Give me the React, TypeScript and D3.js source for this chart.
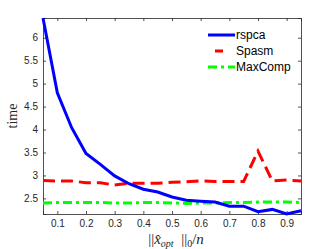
import React, { useEffect, useRef } from 'react';
import * as d3 from 'd3';

// sparsity levels on the x axis
const sparsity = [0.05, 0.1, 0.15, 0.2, 0.25, 0.3, 0.35, 0.4, 0.45, 0.5, 0.55, 0.6, 0.65, 0.7, 0.75, 0.8, 0.85, 0.9, 0.95];

// run times per method
const rspca = [6.43, 4.8, 4.04, 3.48, 3.24, 2.99, 2.82, 2.7, 2.64, 2.53, 2.46, 2.44, 2.42, 2.33, 2.33, 2.21, 2.26, 2.16, 2.23];
const spasm = [2.89, 2.88, 2.88, 2.84, 2.84, 2.79, 2.83, 2.83, 2.83, 2.85, 2.86, 2.88, 2.87, 2.87, 2.87, 3.53, 2.88, 2.9, 2.88];
const maxComp = [2.4, 2.41, 2.41, 2.41, 2.41, 2.4, 2.4, 2.41, 2.41, 2.4, 2.39, 2.4, 2.4, 2.41, 2.41, 2.42, 2.42, 2.42, 2.41];

const xTicks = [0.1, 0.2, 0.3, 0.4, 0.5, 0.6, 0.7, 0.8, 0.9];
const yTicks = [2.5, 3, 3.5, 4, 4.5, 5, 5.5, 6];

const seriesNames = ['rspca', 'Spasm', 'MaxComp'];

const App = () => {
  const ref = useRef<SVGSVGElement>(null);
  const width = 332;
  const height = 249;

  useEffect(() => {
    const svg = d3.select(ref.current);
    svg.selectAll('*').remove();

    const margin = { top: 18, right: 31, bottom: 35, left: 43 };
    const innerW = width - margin.left - margin.right;
    const innerH = height - margin.top - margin.bottom;

    const all = rspca.concat(spasm, maxComp);
    const x = d3.scaleLinear().domain([0.05, 0.95]).range([0, innerW]);
    const y = d3.scaleLinear().domain([d3.min(all)!, d3.max(all)!]).range([innerH, 0]);

    const g = svg.append('g').attr('transform', `translate(${margin.left},${margin.top})`);

    const tickFont = 'Liberation Sans, Arial, sans-serif';
    const serif = 'Liberation Serif, serif';
    const axisColor = '#262626';

    // axes box with inward ticks (MATLAB look)
    const bottom = g.append('g').attr('transform', `translate(0,${innerH})`)
      .call(d3.axisBottom(x).tickValues(xTicks).tickSize(-3).tickPadding(6).tickFormat(d3.format('.1f')));
    const top = g.append('g')
      .call(d3.axisTop(x).tickValues(xTicks).tickSize(-3).tickFormat(() => ''));
    const left = g.append('g')
      .call(d3.axisLeft(y).tickValues(yTicks).tickSize(-3).tickPadding(5).tickFormat(d3.format('')));
    const right = g.append('g').attr('transform', `translate(${innerW},0)`)
      .call(d3.axisRight(y).tickValues(yTicks).tickSize(-3).tickFormat(() => ''));

    [bottom, top, left, right].forEach(a => {
      a.select('.domain').attr('stroke', axisColor).attr('stroke-width', 0.8);
      a.selectAll('.tick line').attr('stroke', axisColor).attr('stroke-width', 0.8);
      a.selectAll('text').attr('font-family', tickFont).attr('font-size', 10).attr('fill', axisColor);
    });

    const line = (vals: number[]) => d3.line<number>()
      .x((_, i) => x(sparsity[i]))
      .y(d => y(d))(vals);

    const styles = [
      { color: '#0000ff', dash: null },
      { color: '#ff0000', dash: '12,6' },
      { color: '#00ff00', dash: '9,4,3,4' },
    ];
    const data = [rspca, spasm, maxComp];

    const plot = g.append('g');
    // green first, blue on top
    [2, 1, 0].forEach(i => {
      plot.append('path')
        .attr('d', line(data[i]))
        .attr('fill', 'none')
        .attr('stroke', styles[i].color)
        .attr('stroke-width', 3)
        .attr('stroke-dasharray', styles[i].dash);
    });

    // legend
    const legend = g.append('g').attr('transform', `translate(${208 - margin.left},${35 - margin.top})`);
    seriesNames.forEach((name, i) => {
      const row = legend.append('g').attr('transform', `translate(0,${i * 16})`);
      if (i === 1) {
        row.append('line').attr('x1', 7).attr('x2', 15).attr('y1', 0).attr('y2', 0)
          .attr('stroke', styles[i].color).attr('stroke-width', 3);
      } else {
        row.append('line').attr('x1', 0).attr('x2', 27).attr('y1', 0).attr('y2', 0)
          .attr('stroke', styles[i].color).attr('stroke-width', 3)
          .attr('stroke-dasharray', styles[i].dash);
      }
      row.append('text').attr('x', 28).attr('y', 0).attr('dy', '0.35em')
        .attr('font-family', tickFont).attr('font-size', 12).attr('fill', '#000')
        .text(name);
    });

    // y label
    svg.append('text')
      .attr('transform', `translate(17,${margin.top + innerH / 2}) rotate(-90)`)
      .attr('text-anchor', 'middle')
      .attr('font-family', serif)
      .attr('font-size', 14)
      .attr('fill', axisColor)
      .text('time');

    // x label: ||x̂_opt ||_0/n
    const xl = svg.append('text')
      .attr('x', margin.left + innerW / 2 + 4)
      .attr('y', 244)
      .attr('text-anchor', 'middle')
      .attr('font-family', serif)
      .attr('font-size', 15)
      .attr('fill', axisColor);
    xl.append('tspan').text('||');
    xl.append('tspan').attr('font-style', 'italic').text('x\u0302');
    xl.append('tspan').attr('font-style', 'italic').attr('font-size', 10).attr('dy', 3).text('opt');
    xl.append('tspan').attr('dy', -3).text('\u2002||');
    xl.append('tspan').attr('font-size', 10).attr('dy', 3).text('0');
    xl.append('tspan').attr('dy', -3).text('/');
    xl.append('tspan').attr('font-style', 'italic').text('n');
  }, []);

  return (
    <svg ref={ref} width={width} height={height}
      style={{ position: 'absolute', left: 0, top: 0, background: '#fff' }} />
  );
};

export default App;
